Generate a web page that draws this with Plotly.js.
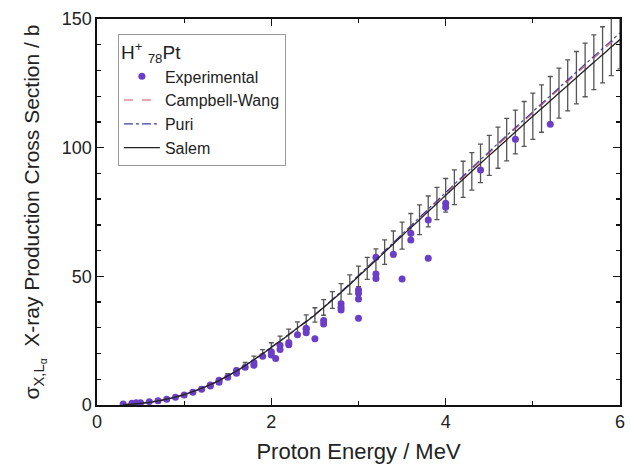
<!DOCTYPE html>
<html>
<head>
<meta charset="utf-8">
<script src="https://cdn.plot.ly/plotly-3.0.1.min.js"></script>
<style>html,body{margin:0;padding:0;background:#fff;}#chart{width:630px;height:469px;}</style>
</head>
<body>
<div id="chart"></div>
<script>
// Experimental data (proton energy in MeV, cross section in barn)
const expEnergy = [0.30,0.40,0.45,0.50,0.60,0.70,0.80,0.90,1.00,1.10,1.20,1.30,1.30,1.40,1.40,1.50,1.60,1.60,1.70,1.80,1.80,1.90,2.00,2.00,2.05,2.10,2.10,2.20,2.20,2.30,2.40,2.40,2.40,2.50,2.60,2.60,2.80,2.80,2.80,3.00,3.00,3.00,3.00,3.20,3.20,3.20,3.40,3.50,3.60,3.60,3.80,3.80,4.00,4.00,4.40,4.80,5.20];
const expSigma  = [0.4,0.65,0.9,0.9,1.3,1.7,2.2,3.0,3.9,5.0,6.1,7.4,7.8,8.8,9.6,10.8,12.3,13.4,14.7,15.4,16.5,18.9,20.7,19.4,18.1,21.6,23.2,23.4,24.2,27.3,28.1,29.4,29.8,25.7,32.8,31.5,39.3,38.0,36.9,44.7,43.4,41.2,33.7,57.4,50.9,49.2,58.6,49.0,66.7,64.1,71.9,57.0,78.4,76.8,91.3,103.3,109.1];

// Salem curve (with error bars every 0.1 MeV)
const salemEnergy = [0.3,0.4,0.5,0.6,0.7,0.8,0.9,1.0,1.1,1.2,1.3,1.4,1.5,1.6,1.7,1.8,1.9,2.0,2.1,2.2,2.3,2.4,2.5,2.6,2.7,2.8,2.9,3.0,3.1,3.2,3.3,3.4,3.5,3.6,3.7,3.8,3.9,4.0,4.1,4.2,4.3,4.4,4.5,4.6,4.7,4.8,4.9,5.0,5.1,5.2,5.3,5.4,5.5,5.6,5.7,5.8,5.9,6.0];
const salemSigma  = [0.15,0.35,0.6,1.0,1.6,2.3,3.1,4.0,5.2,6.5,7.9,9.5,11.3,13.2,15.3,17.6,19.9,22.4,24.8,27.3,29.9,32.4,35.0,37.9,40.8,43.7,46.8,50.0,53.1,56.2,59.4,62.6,65.8,68.9,72.0,75.2,78.3,81.5,84.6,87.7,90.8,93.9,97.0,100.0,103.1,106.1,109.2,112.2,115.2,118.2,121.2,124.2,127.2,130.2,133.2,136.1,139.1,142.0];
const salemErrPercent = 8;

// Campbell-Wang and Puri curves
const theoryEnergy = [0.3,0.5,0.75,1.0,1.25,1.5,1.75,2.0,2.25,2.5,2.75,3.0,3.25,3.5,4.0,4.5,5.0,5.5,6.0];
const cwSigma      = [0.15,0.6,1.9,4.0,7.2,11.3,16.4,22.4,28.6,35.1,42.4,50.2,58.1,66.2,82.2,98.0,113.5,128.8,143.8];
const puriSigma    = [0.15,0.6,1.9,4.0,7.2,11.3,16.4,22.5,28.7,35.2,42.5,50.4,58.3,66.4,82.6,98.5,114.0,129.4,144.6];

const xTicks = [0,2,4,6];
const yTicks = [0,50,100,150];

const traces = [
  {x: salemEnergy, y: salemSigma, type:'scatter', mode:'markers', showlegend:false, hoverinfo:'skip',
   marker:{size:1, opacity:0},
   error_y:{type:'percent', value:salemErrPercent, color:'#555', thickness:1.3, width:2.5}},
  {x: expEnergy, y: expSigma, type:'scatter', mode:'markers', name:'Experimental',
   marker:{color:'#6a3ec6', size:7}},
  {x: theoryEnergy, y: cwSigma, type:'scatter', mode:'lines', name:'Campbell-Wang',
   line:{color:'#d0506a', width:1.1, dash:'dash', shape:'spline'}},
  {x: theoryEnergy, y: puriSigma, type:'scatter', mode:'lines', name:'Puri',
   line:{color:'#3a3a9e', width:1.1, dash:'dashdot', shape:'spline'}},
  {x: salemEnergy, y: salemSigma, type:'scatter', mode:'lines', name:'Salem',
   line:{color:'#222', width:1.3, shape:'spline'}}
];

const layout = {
  width:630, height:469,
  margin:{l:97, r:10, t:19, b:64},
  paper_bgcolor:'#fff', plot_bgcolor:'#fff',
  font:{family:'Liberation Sans, Arial, sans-serif', color:'#222', size:18},
  showlegend:true,
  legend:{x:0.04, y:0.962, xanchor:'left', yanchor:'top',
    bgcolor:'#fff', bordercolor:'#999', borderwidth:1,
    font:{size:16, color:'#222'},
    title:{text:'H<sup>+</sup> <sub>78</sub>Pt', font:{size:19, color:'#222'}},
    itemwidth:36,
    tracegroupgap:0},
  xaxis:{range:[0,6], tickvals:xTicks, ticks:'inside', ticklen:7, tickwidth:1.5, tickcolor:'#111',
    showline:true, linecolor:'#111', linewidth:1.6, mirror:'ticks', showgrid:false, zeroline:false,
    tickfont:{size:18},
    minor:{dtick:1, ticks:'inside', ticklen:4, tickwidth:1.3, tickcolor:'#111'},
    title:{text:'Proton Energy / MeV', font:{size:22}, standoff:12}},
  yaxis:{range:[0,150], tickvals:yTicks, ticks:'inside', ticklen:7, tickwidth:1.5, tickcolor:'#111',
    showline:true, linecolor:'#111', linewidth:1.6, mirror:'ticks', showgrid:false, zeroline:false,
    tickfont:{size:18},
    minor:{dtick:10, ticks:'inside', ticklen:4, tickwidth:1.3, tickcolor:'#111'},
    title:{text:'σ<sub>X,L<sub>α</sub></sub>  X-ray Production Cross Section / b', font:{size:21}, standoff:16}}
};

Plotly.newPlot('chart', traces, layout, {displayModeBar:false, staticPlot:true});
</script>
</body>
</html>
